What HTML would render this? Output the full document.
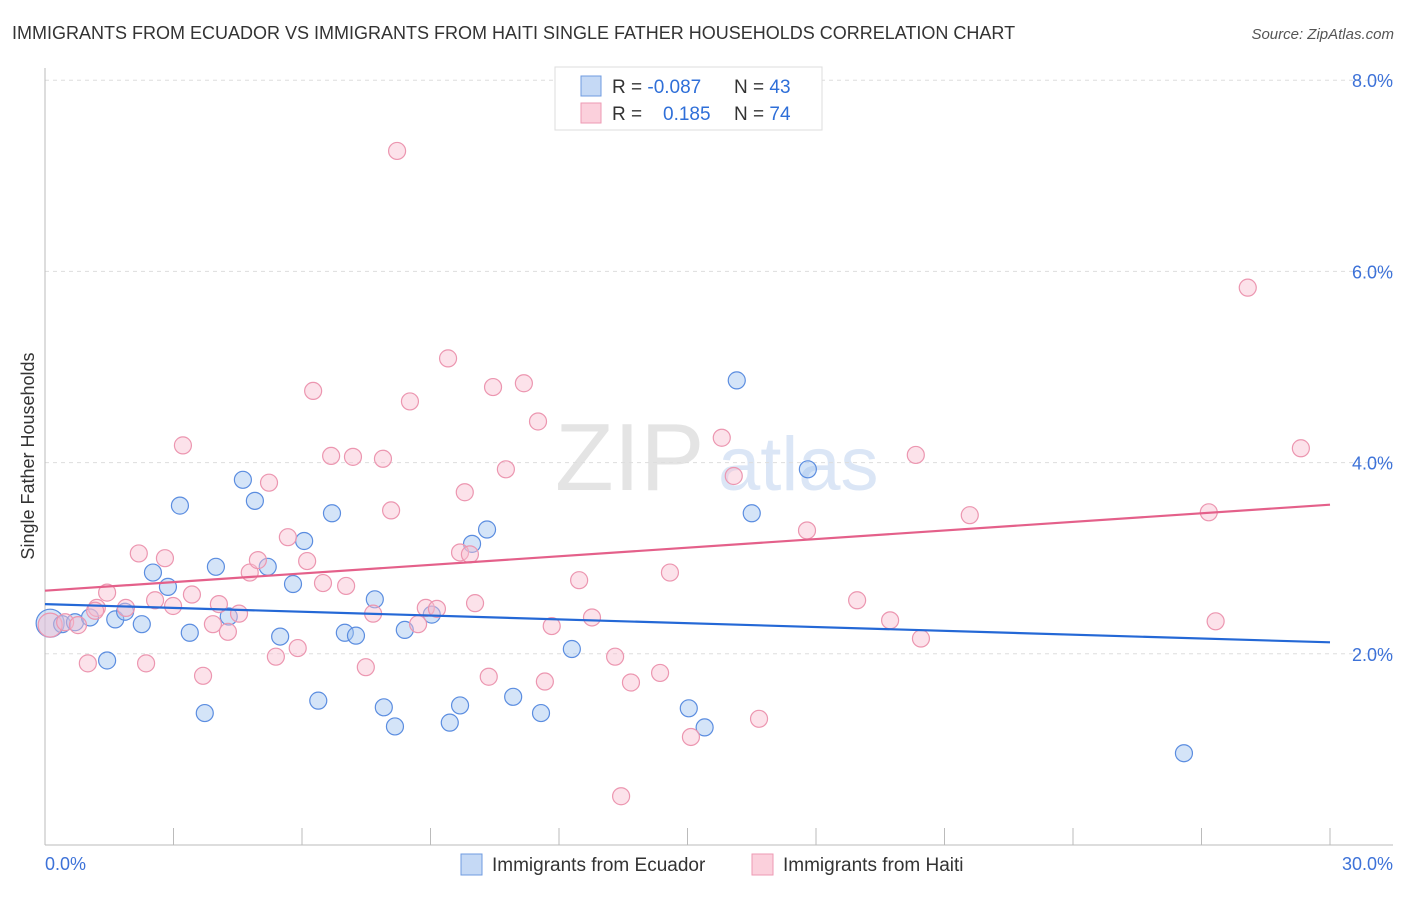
<!DOCTYPE html>
<html><head><meta charset="utf-8"><style>
body{margin:0;background:#fff;font-family:"Liberation Sans",sans-serif}
svg text{font-family:"Liberation Sans",sans-serif}
</style></head><body>
<svg id="chart" width="1406" height="892">
<text x="12" y="39" font-size="18" fill="#333">IMMIGRANTS FROM ECUADOR VS IMMIGRANTS FROM HAITI SINGLE FATHER HOUSEHOLDS CORRELATION CHART</text>
<text x="1394" y="39" font-size="15" fill="#555" font-style="italic" text-anchor="end">Source: ZipAtlas.com</text>
<text x="555" y="490" font-size="96" fill="#e4e4e4" font-family="Liberation Serif">ZIP</text>
<text x="718" y="490" font-size="76" fill="#dbe6f6">atlas</text>
<text transform="translate(34,456) rotate(-90)" font-size="18" fill="#333" text-anchor="middle">Single Father Households</text>
<g id="grid"></g><g id="axes"></g><g id="pts"></g><g id="lines"></g>
<g>
<rect x="555" y="67" width="267" height="63" fill="#fff" stroke="#ddd"/>
<rect x="581" y="76" width="20" height="20" fill="#c5d9f5" stroke="#6f9be0"/>
<rect x="581" y="103" width="20" height="20" fill="#fbd0dc" stroke="#ee9ab3"/>
<text x="612" y="93" font-size="19" fill="#333">R = <tspan fill="#2f6fd8">-0.087</tspan><tspan x="734">N = </tspan><tspan fill="#2f6fd8">43</tspan></text>
<text x="612" y="120" font-size="19" fill="#333">R = <tspan x="663" fill="#2f6fd8">0.185</tspan><tspan x="734">N = </tspan><tspan fill="#2f6fd8">74</tspan></text>
</g>
<g>
<rect x="461" y="854" width="21" height="21" fill="#c5d9f5" stroke="#6f9be0"/>
<text x="492" y="871" font-size="19" fill="#333">Immigrants from Ecuador</text>
<rect x="752" y="854" width="21" height="21" fill="#fbd0dc" stroke="#ee9ab3"/>
<text x="783" y="871" font-size="19" fill="#333">Immigrants from Haiti</text>
</g>
</svg>
<script>
const yTicks=[2,4,6,8];
const xLabels=["0.0%","30.0%"];
const ecuadorX=[0.12,0.40,0.70,1.05,1.45,1.64,1.87,2.26,2.52,2.87,3.15,3.38,3.73,3.99,4.29,4.62,4.90,5.20,5.49,5.79,6.05,6.38,6.70,7.00,7.26,7.70,7.91,8.17,8.40,9.03,9.45,9.69,9.97,10.32,10.93,11.58,12.30,15.03,15.40,16.15,16.50,17.81,26.59];
const ecuadorY=[2.32,2.31,2.33,2.38,1.93,2.36,2.44,2.31,2.85,2.70,3.55,2.22,1.38,2.91,2.39,3.82,3.60,2.91,2.18,2.73,3.18,1.51,3.47,2.22,2.19,2.57,1.44,1.24,2.25,2.41,1.28,1.46,3.15,3.30,1.55,1.38,2.05,1.43,1.23,4.86,3.47,3.93,0.96];
const haitiX=[0.12,0.47,0.77,1.00,1.21,1.45,1.89,2.19,2.36,2.57,2.80,2.99,3.22,3.43,3.69,3.92,4.06,4.27,4.53,4.78,4.97,5.23,5.39,5.67,5.90,6.12,6.26,6.49,6.68,7.03,7.19,7.49,7.66,7.89,8.08,8.22,8.52,8.71,8.89,9.15,9.41,9.69,9.80,10.04,10.36,10.46,10.76,11.18,11.51,11.67,11.83,12.47,12.77,13.31,13.45,13.68,14.36,14.59,15.08,15.80,16.08,16.67,17.79,18.96,19.73,20.45,20.33,21.59,27.17,27.33,28.08,29.32,9.92,1.17];
const haitiY=[2.30,2.33,2.30,1.90,2.48,2.64,2.48,3.05,1.90,2.56,3.00,2.50,4.18,2.62,1.77,2.31,2.52,2.23,2.42,2.85,2.98,3.79,1.97,3.22,2.06,2.97,4.75,2.74,4.07,2.71,4.06,1.86,2.42,4.04,3.50,7.26,4.64,2.31,2.48,2.47,5.09,3.06,3.69,2.53,1.76,4.79,3.93,4.83,4.43,1.71,2.29,2.77,2.38,1.97,0.51,1.70,1.80,2.85,1.13,4.26,3.86,1.32,3.29,2.56,2.35,2.16,4.08,3.45,3.48,2.34,5.83,4.15,3.04,2.45];
const trendX=[0,30];
const ecuadorTrend=[2.52,2.12];
const haitiTrend=[2.66,3.56];
const NS="http://www.w3.org/2000/svg";
const xs=v=>45+v/30*1285, ys=v=>845-v*95.6;
function mk(p,t,a){const e=document.createElementNS(NS,t);for(const k in a)e.setAttribute(k,a[k]);document.getElementById(p).appendChild(e);return e;}
yTicks.forEach(t=>{
 const l=mk('grid','line',{x1:45,x2:1393,y1:ys(t),y2:ys(t),stroke:'#ddd','stroke-dasharray':'4,4'});
 
 
 const tx=mk('grid','text',{x:1393,y:ys(t)+7,'font-size':18,fill:'#3d72d8','text-anchor':'end'});
 tx.textContent=t.toFixed(1)+'%';
 
 
});
mk('axes','line',{x1:45,x2:45,y1:68,y2:845,stroke:'#bbb'});
mk('axes','line',{x1:45,x2:1393,y1:845,y2:845,stroke:'#bbb'});
for(let i=0;i<=10;i++){const t=mk('axes','line',{x1:xs(i*3),x2:xs(i*3),y1:828,y2:845,stroke:'#bbb'});
 
 }
const a=mk('axes','text',{x:45,y:870,'font-size':18,fill:'#3d72d8'});a.textContent=xLabels[0];


const b=mk('axes','text',{x:1393,y:870,'font-size':18,fill:'#3d72d8','text-anchor':'end'});b.textContent=xLabels[1];


ecuadorX.forEach((x,i)=>{const c=mk('pts','circle',{cx:xs(x),cy:ys(ecuadorY[i]),r:i==0?14:8.5,fill:'rgba(160,195,240,0.45)',stroke:'#5b8de0','stroke-width':1.2});
 
 });
haitiX.forEach((x,i)=>{const c=mk('pts','circle',{cx:xs(x),cy:ys(haitiY[i]),r:i==0?12:8.5,fill:'rgba(248,190,208,0.45)',stroke:'#ec96b0','stroke-width':1.2});
 
 });
const l1=mk('lines','line',{x1:xs(trendX[0]),x2:xs(trendX[1]),y1:ys(ecuadorTrend[0]),y2:ys(ecuadorTrend[1]),stroke:'#2468d6','stroke-width':2.2});


const l2=mk('lines','line',{x1:xs(trendX[0]),x2:xs(trendX[1]),y1:ys(haitiTrend[0]),y2:ys(haitiTrend[1]),stroke:'#e4608a','stroke-width':2.2});


</script>
</body></html>
